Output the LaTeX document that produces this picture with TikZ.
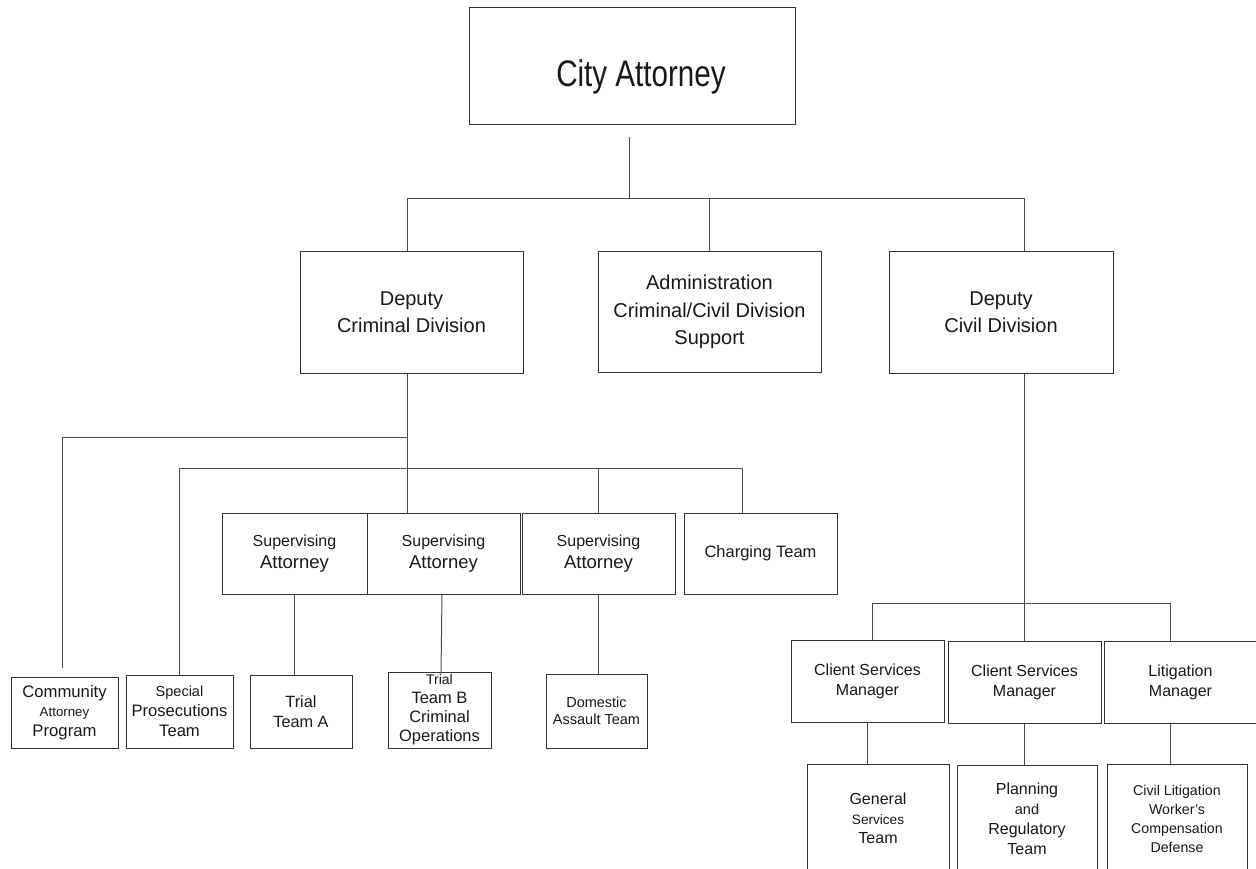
\documentclass[tikz,border=0pt]{standalone}
\usepackage{fontspec}
\setmainfont{Liberation Sans}
\newfontfamily\narrowfont[FakeStretch=0.8]{Liberation Sans}
\newcommand\fsz[2]{\fontsize{#1}{#2}\selectfont}

\begin{document}
\begin{tikzpicture}[x=1pt, y=-1pt, line join=miter,
	box/.style={draw=black!80, line width=1pt, rectangle, inner sep=0pt,
		align=center, text=black!90},
	link/.style={draw=black!70, line width=1pt}]
	\useasboundingbox (0,0) rectangle (1256,869);
	\clip (0,0) rectangle (1256,869);
	% top level
	\node[box, minimum width=326pt, minimum height=117pt, text height=49pt,
	text depth=8pt] (city) at (632,66.5)
	{\narrowfont\fsz{37}{44}\hspace*{18pt}City Attorney};
	\node[box, minimum width=223pt, minimum height=121pt, font=\fsz{20}{27}]
	(crim) at (411.5,312.5) {Deputy\\Criminal Division};
	\node[box, minimum width=223pt, minimum height=120pt, font=\fsz{20}{27.5}]
	(admin) at (709.5,312) {Administration\\Criminal/Civil Division\\Support};
	\node[box, minimum width=224pt, minimum height=121pt, font=\fsz{20}{27}]
	(civ) at (1001,312.5) {Deputy\\Civil Division};
	% criminal division
	\node[box, minimum width=145pt, minimum height=81pt, font=\fsz{17}{22}]
	(sup1) at (294.5,553.5) {{\fsz{16}{22}Supervising}\\{\fsz{18.5}{22}Attorney}};
	\node[box, minimum width=153pt, minimum height=81pt, font=\fsz{17}{22}]
	(sup2) at (443.5,553.5) {{\fsz{16}{22}Supervising}\\{\fsz{18.5}{22}Attorney}};
	\node[box, minimum width=153pt, minimum height=81pt, font=\fsz{17}{22}]
	(sup3) at (598.5,553.5) {{\fsz{16}{22}Supervising}\\{\fsz{18.5}{22}Attorney}};
	\node[box, minimum width=153pt, minimum height=81pt, font=\fsz{16.5}{20}]
	(charge) at (760.5,553.5) {Charging Team};
	\node[box, minimum width=107pt, minimum height=71pt, font=\fsz{16.7}{19.5}]
	(comm) at (64.5,712.5) {Community\\{\fsz{13.3}{19.5}Attorney}\\Program};
	\node[box, minimum width=107pt, minimum height=73pt, font=\fsz{16.6}{20}]
	(spec) at (179.5,711.5) {{\fsz{14.5}{20}Special}\\Prosecutions\\Team};
	\node[box, minimum width=102pt, minimum height=73pt, font=\fsz{16.3}{20}]
	(triala) at (301,711.5) {Trial\\Team A};
	\node[box, minimum width=103pt, minimum height=76pt, font=\fsz{16.5}{19}]
	(trialb) at (439.5,710) {{\fsz{14}{19}Trial}\\Team B\\Criminal\\Operations};
	\node[box, minimum width=101pt, minimum height=74pt, font=\fsz{14.5}{17.5}]
	(dom) at (596.5,711) {Domestic\\Assault Team};
	% civil division
	\node[box, minimum width=153pt, minimum height=82pt, font=\fsz{16}{20}]
	(cs1) at (867.5,681) {Client Services\\Manager};
	\node[box, minimum width=153pt, minimum height=82pt, font=\fsz{16}{20}]
	(cs2) at (1024.5,682) {Client Services\\Manager};
	\node[box, minimum width=153pt, minimum height=82pt, font=\fsz{16}{20}]
	(lit) at (1180.5,682) {Litigation\\Manager};
	\node[box, minimum width=142pt, minimum height=109pt, font=\fsz{16}{19.5}]
	(gen) at (878,818.5) {General\\{\fsz{13.6}{19.5}Services}\\Team};
	\node[box, minimum width=140pt, minimum height=108pt, font=\fsz{16}{20}]
	(plan) at (1027,819) {Planning\\{\fsz{14.5}{20}and}\\Regulatory\\Team};
	\node[box, minimum width=140pt, minimum height=109pt, font=\fsz{14.2}{19}]
	(cl) at (1177,818.5) {Civil Litigation\\Worker’s\\Compensation\\Defense};
	% connectors
	\coordinate (tl) at (407,199);
	\coordinate (tr) at (1024,199);
	\coordinate (c1) at (62,437);
	\coordinate (c2) at (180,468);
	\coordinate (c3) at (742,468);
	\coordinate (v1) at (872,603);
	\coordinate (v2) at (1170,603);
	\draw[link] ([xshift=-3pt,yshift=-12pt]city.south) coordinate (cb) -- (cb |- tl);
	\draw[link] (crim.north -| tl) -- (tl) -- (tr) -- (civ.north -| tr);
	\draw[link] (admin.north) -- (admin.north |- tl);
	\draw[link] (tl |- crim.south) -- (tl |- sup2.north);
	\draw[link] (tl |- c1) -- (c1) -- ([yshift=9pt]comm.north -| c1);
	\draw[link] (spec.north) -- (spec.north |- c2) -- (c3) -- (charge.north -| c3);
	\draw[link] (sup3.north) -- (sup3.north |- c2);
	\draw[link] (sup1.south) -- (sup1.south |- triala.north);
	\draw[link] ([xshift=-1.5pt]sup2.south) -- ([xshift=1.5pt,yshift=-2pt]trialb.north);
	\draw[link] (sup3.south) -- (sup3.south |- dom.north);
	\draw[link] (civ.south -| tr) -- (tr |- cs2.north);
	\draw[link] (cs1.north -| v1) -- (v1) -- (v2) -- (lit.north -| v2);
	\draw[link] (cs1.south) -- (cs1.south |- gen.north);
	\draw[link] (cs2.south) -- (cs2.south |- plan.north);
	\draw[link] (lit.south -| v2) -- (v2 |- cl.north);
\end{tikzpicture}
\end{document}
